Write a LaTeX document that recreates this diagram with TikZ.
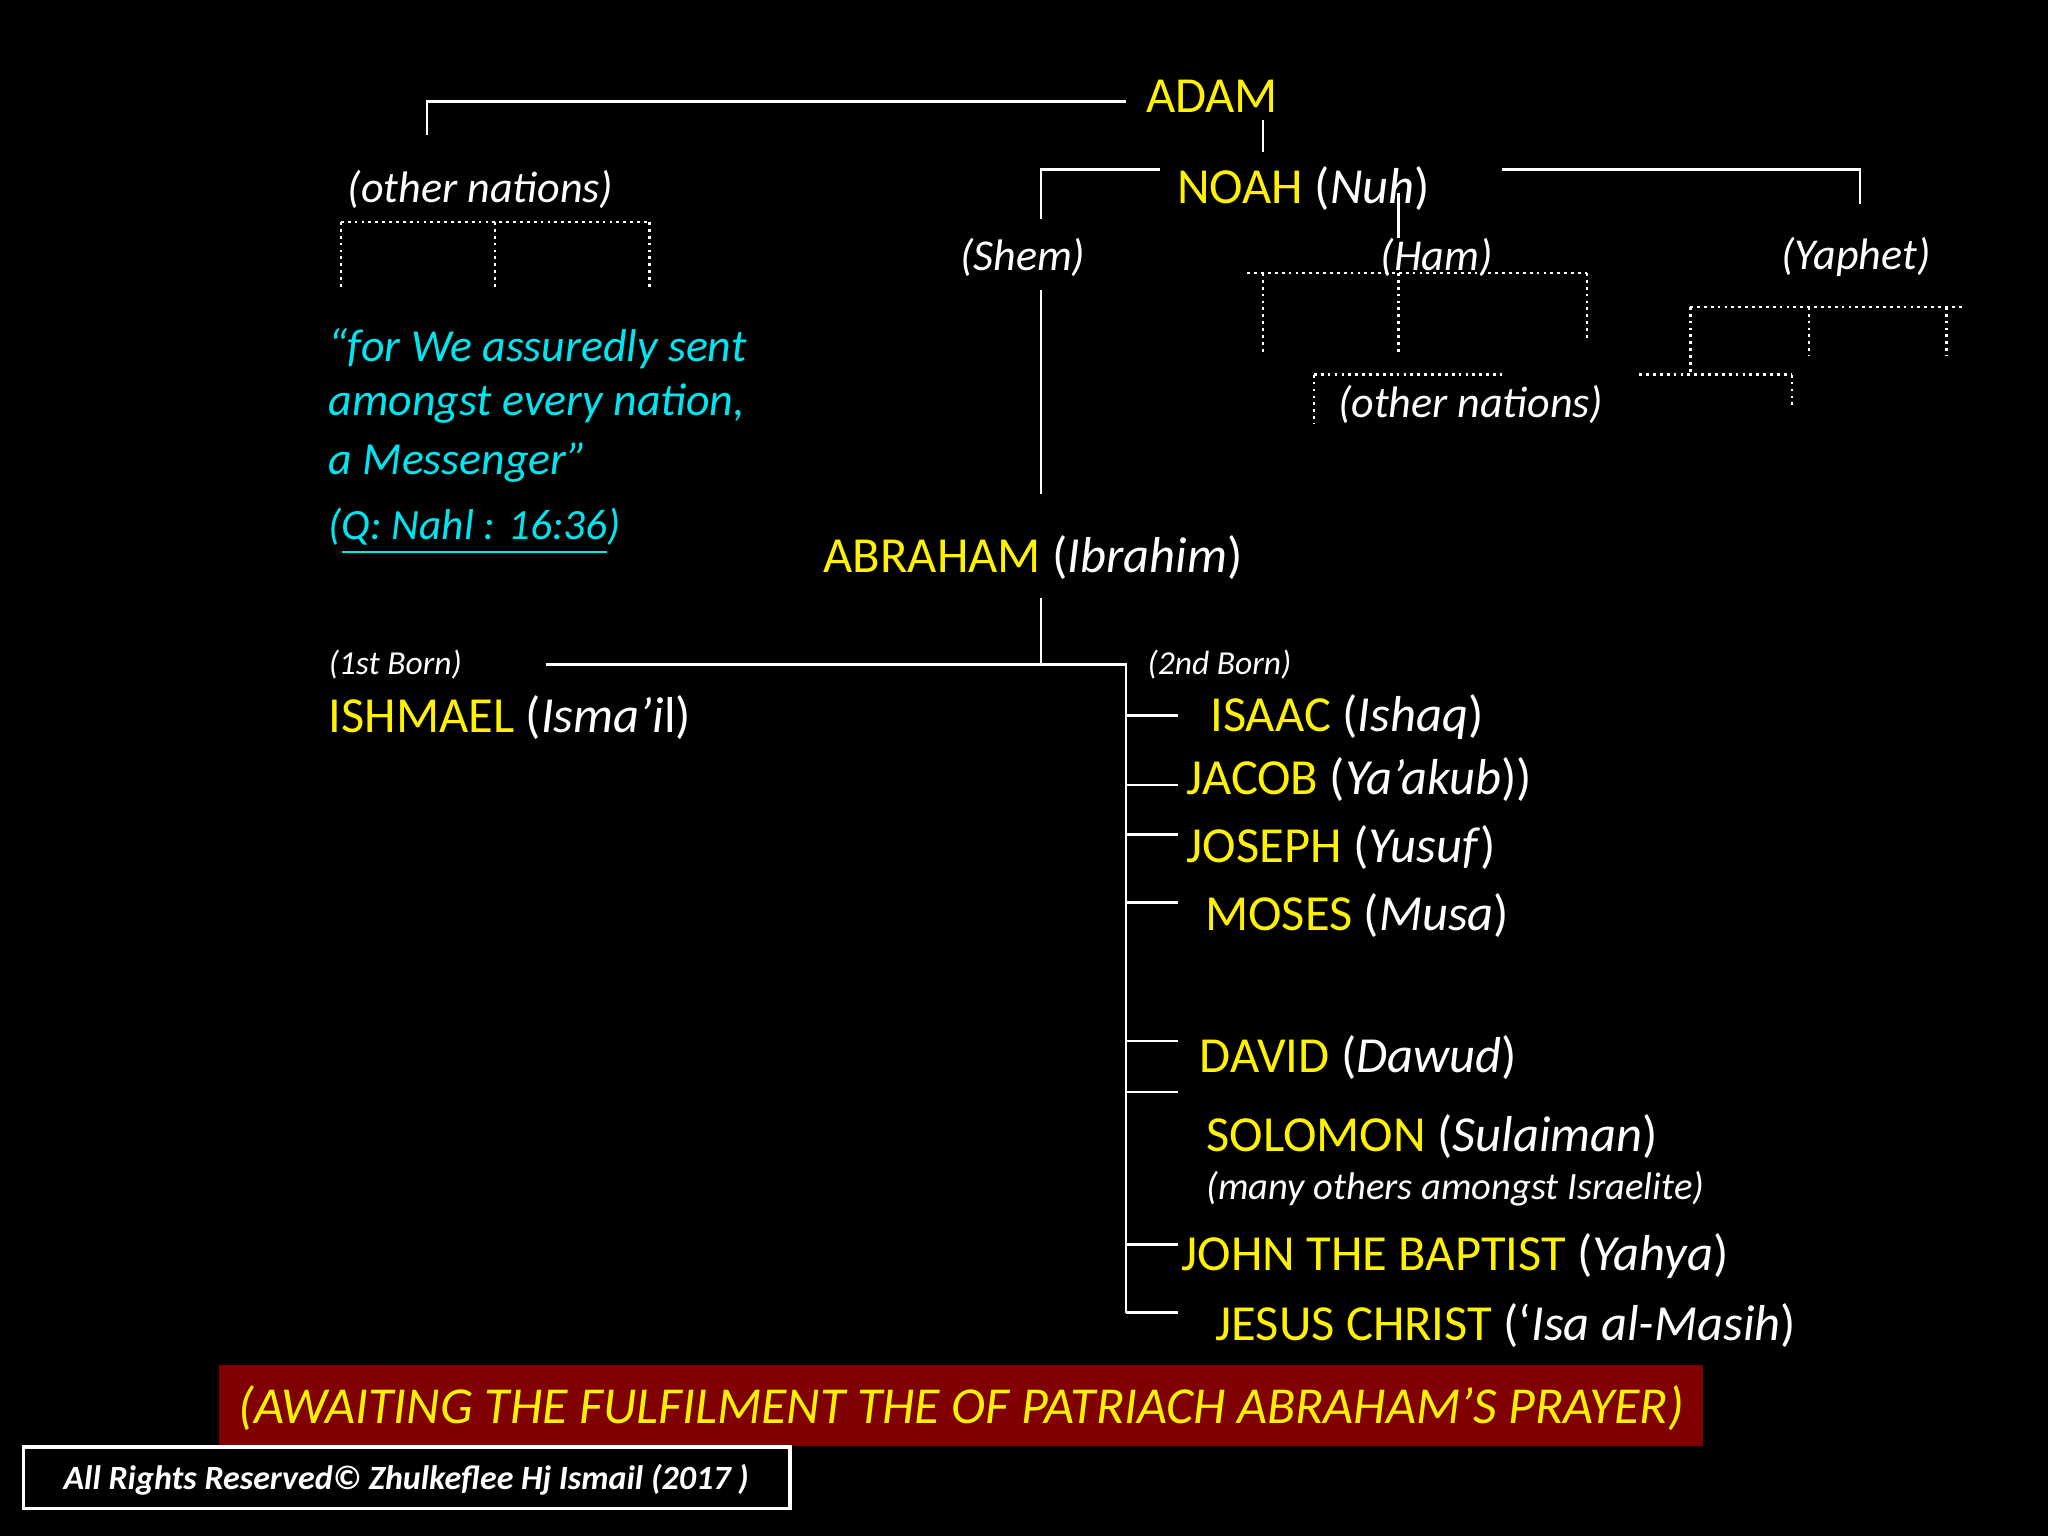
\documentclass[tikz,border=0pt]{standalone}
\usepackage{fontspec}
\setmainfont{Carlito}
\begin{document}
\begin{tikzpicture}[x=0.01cm,y=-0.01cm,
  ln/.style={white,line width=0.6pt},
  dt/.style={white,line width=0.6pt,dash pattern=on 0.6pt off 0.9pt},
  yl/.style={text=yellow,font=\fontsize{11}{13}\selectfont,inner sep=0pt},
  wl/.style={text=white,font=\fontsize{9.6}{11}\selectfont\itshape,inner sep=0pt},
  sm/.style={text=white,font=\fontsize{7.3}{9}\selectfont\itshape,inner sep=0pt},
  cy/.style={text={rgb,255:red,0;green,230;blue,240},font=\fontsize{10}{12}\selectfont\itshape,inner sep=0pt,anchor=west}]
\fill[black] (0,0) rectangle (1568,1176);
\newcommand{\pw}[1]{\textcolor{white}{#1}}
% top
\node[yl] (adam) at (928,74) {ADAM};
\draw[ln] (327,103) -- (327,78) -- (862,78);
\draw[ln] (967,92) -- (967,116);
\node[yl] (noah) at (998,144) {NOAH \pw{(\textit{Nuh})}};
\draw[ln] (797,168) -- (797,130) -- (888,130);
\draw[ln] (1150,130) -- (1424,130) -- (1424,156);
\draw[ln] (1071,148) -- (1071,182);
\node[wl] (on1) at (368,145) {(other nations)};
\draw[dt] (261,170) -- (497,170);
\foreach \x in {261,379,497} \draw[dt] (\x,170) -- (\x,220);
\node[wl] (shem) at (783,197) {(Shem)};
\draw[ln] (797,222) -- (797,378);
\node[wl] (ham) at (1100,197) {(Ham)};
\draw[dt] (955,209) -- (1215,209);
\draw[dt] (967,209) -- (967,272);
\draw[dt] (1071,209) -- (1071,272);
\draw[dt] (1215,209) -- (1215,260);
\draw[dt] (1006,287) -- (1150,287);
\draw[dt] (1006,287) -- (1006,325);
\node[wl] (on2) at (1126,310) {(other nations)};
\node[wl] (yaph) at (1421,197) {(Yaphet)};
\draw[dt] (1294,235) -- (1502,235);
\draw[dt] (1294,235) -- (1294,287);
\draw[dt] (1385,235) -- (1385,272);
\draw[dt] (1490,235) -- (1490,272);
\draw[dt] (1255,287) -- (1372,287);
\draw[dt] (1372,287) -- (1372,312);
% quote
\node[cy] (q1) at (251,267) {“for We assuredly sent};
\node[cy] (q2) at (251,309) {amongst every nation,};
\node[cy] (q3) at (251,354) {a Messenger”};
\node[cy,font=\fontsize{9.4}{11}\selectfont\itshape] (q4) at (251,407) {(\underline{Q: Nahl : 16:36})};
% Abraham
\node[yl] (abr) at (791,427) {ABRAHAM \pw{(\textit{Ibrahim})}};
\draw[ln] (797,458) -- (797,509);
\draw[ln] (418,509) -- (862,509) -- (862,1005);
\node[sm,anchor=west] (b1) at (251,509) {(1st Born)};
\node[yl,anchor=west] (ish) at (251,549) {ISHMAEL \pw{(\textit{Isma’i}l)}};
\node[sm,anchor=west] (b2) at (878,509) {(2nd Born)};
\foreach \y in {548,601,639,691,797,836,953,1005} \draw[ln] (862,\y) -- (902,\y);
\node[yl,anchor=west] at (926,549) {ISAAC \pw{(\textit{Ishaq})}};
\node[yl,anchor=west] at (908,597) {JACOB \pw{(\textit{Ya’akub}))}};
\node[yl,anchor=west] at (908,649) {JOSEPH \pw{(\textit{Yusuf})}};
\node[yl,anchor=west] at (922,701) {MOSES \pw{(\textit{Musa})}};
\node[yl,anchor=west] at (918,810) {DAVID \pw{(\textit{Dawud})}};
\node[yl,anchor=west] at (923,870) {SOLOMON \pw{(\textit{Sulaiman})}};
\node[sm,anchor=west,font=\fontsize{8.4}{10}\selectfont\itshape] at (923,910) {(many others amongst Israelite)};
\node[yl,anchor=west] at (904,962) {JOHN THE BAPTIST \pw{(\textit{Yahya})}};
\node[yl,anchor=west] at (930,1015) {JESUS CHRIST \pw{(‘\textit{Isa al-Masih})}};
% banner
\fill[fill={rgb,255:red,128;green,0;blue,0}] (168,1045) rectangle (1304,1107);
\node[text=yellow,font=\fontsize{11.3}{13}\selectfont\itshape,inner sep=0pt] (ban) at (736,1078) {(AWAITING THE FULFILMENT THE OF PATRIACH ABRAHAM’S PRAYER)};
\draw[white,line width=0.8pt] (18,1108) rectangle (605,1155);
\node[text=white,font=\fontsize{7.4}{9}\selectfont\bfseries\itshape,inner sep=0pt] (cr) at (311,1133) {All Rights Reserved© Zhulkeflee Hj Ismail (2017 )};
\end{tikzpicture}
\end{document}
